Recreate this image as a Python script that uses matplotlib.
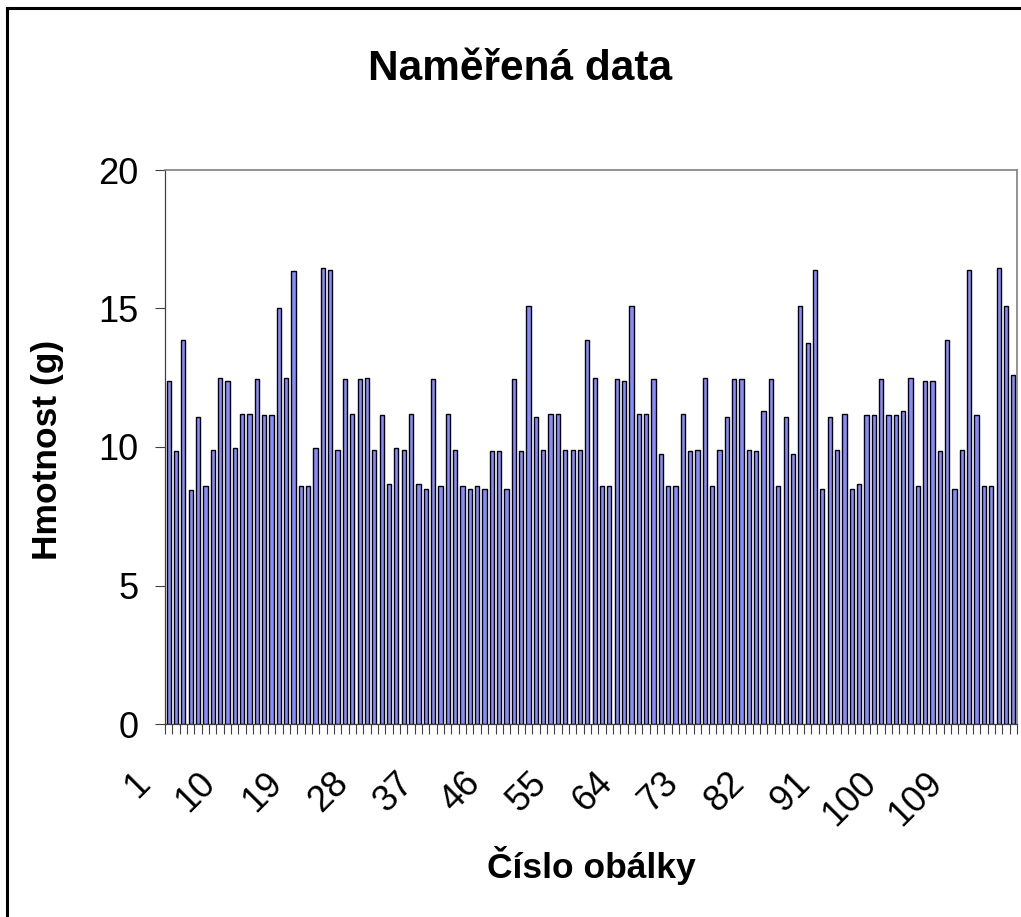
import matplotlib
matplotlib.use("Agg")
import matplotlib.pyplot as plt
import matplotlib.transforms as mtransforms
from matplotlib.lines import Line2D
import numpy as np

plt.rcParams['font.family'] = ['Liberation Sans', 'DejaVu Sans']

title = "Naměřená data"
xlabel = "Číslo obálky"
ylabel = "Hmotnost (g)"

envelope_numbers = list(range(1, 117))
masses = [
    12.4, 9.85, 13.85, 8.45, 11.1, 8.6, 9.9, 12.5, 12.4, 9.95,
    11.2, 11.2, 12.45, 11.15, 11.15, 15.0, 12.5, 16.35, 8.6, 8.6,
    9.95, 16.45, 16.4, 9.9, 12.45, 11.2, 12.45, 12.5, 9.9, 11.15,
    8.65, 9.95, 9.9, 11.2, 8.65, 8.5, 12.45, 8.6, 11.2, 9.9,
    8.6, 8.5, 8.6, 8.5, 9.85, 9.85, 8.5, 12.45, 9.85, 15.1,
    11.1, 9.9, 11.2, 11.2, 9.9, 9.9, 9.9, 13.85, 12.5, 8.6,
    8.6, 12.45, 12.4, 15.1, 11.2, 11.2, 12.45, 9.75, 8.6, 8.6,
    11.2, 9.85, 9.9, 12.5, 8.6, 9.9, 11.1, 12.45, 12.45, 9.9,
    9.85, 11.3, 12.45, 8.6, 11.1, 9.75, 15.1, 13.75, 16.4, 8.5,
    11.1, 9.9, 11.2, 8.5, 8.65, 11.15, 11.15, 12.45, 11.15, 11.15,
    11.3, 12.5, 8.6, 12.4, 12.4, 9.85, 13.85, 8.5, 9.9, 16.4,
    11.15, 8.6, 8.6, 16.45, 15.1, 12.6,
]
label_step = 9
y_ticks = [0, 5, 10, 15, 20]

W, H = 1021, 917
fig = plt.figure(figsize=(W / 100, H / 100), dpi=100)
ax = fig.add_axes([165 / W, 1 - 724 / H, (1017 - 165) / W, (724 - 170) / H])

n = len(masses)
pos = np.arange(n)
ax.bar(pos, masses, width=0.58, color='#8A8AFF', edgecolor='black', linewidth=1.0, zorder=2)

ax.set_xlim(-0.5, n - 0.5)
ax.set_ylim(0, 20)

# y axis
ax.set_yticks(y_ticks)
ax.set_yticklabels([str(v) for v in y_ticks], fontsize=26)
ax.tick_params(axis='y', direction='out', length=7.2, width=0.8, color='#404040', pad=12)

# x axis: tick marks between categories, labels every 9th category
ax.set_xticks(np.arange(n + 1) - 0.5)
ax.set_xticklabels([])
ax.tick_params(axis='x', which='major', direction='out', length=7.2, width=0.8, color='#404040')
lab_pos = [p for p in pos if p % label_step == 0]
ax.set_xticks(lab_pos, minor=True)
ax.set_xticklabels([str(envelope_numbers[p]) for p in lab_pos], minor=True,
                   fontsize=26, rotation=45, ha='right', va='top')
ax.tick_params(axis='x', which='minor', length=0, pad=30)
offset = mtransforms.ScaledTranslation(-12 / 100, 0, fig.dpi_scale_trans)
for lbl in ax.get_xticklabels(minor=True):
    lbl.set_transform(lbl.get_transform() + offset)

for s in ['top', 'right']:
    ax.spines[s].set_color('#808080')
    ax.spines[s].set_linewidth(1.2)
for s in ['left', 'bottom']:
    ax.spines[s].set_color('#404040')
    ax.spines[s].set_linewidth(0.9)

fig.text(520 / W, 1 - 80 / H, title, fontsize=30.5, fontweight='bold', ha='center', va='baseline')
fig.text(591 / W, 1 - 878 / H, xlabel, fontsize=25.5, fontweight='bold', ha='center', va='baseline')
fig.text(48 / W, 1 - 450 / H, ylabel, fontsize=25.5, fontweight='bold', ha='center', va='center', rotation=90)

# outer chart frame (cropped at right and bottom)
fig.add_artist(Line2D([7 / W, 1.0], [1 - 7.5 / H, 1 - 7.5 / H], transform=fig.transFigure, color='black', linewidth=2.2))
fig.add_artist(Line2D([7 / W, 7 / W], [0.0, 1 - 7.5 / H], transform=fig.transFigure, color='black', linewidth=2.2))

fig.savefig("out.png", dpi=100)
